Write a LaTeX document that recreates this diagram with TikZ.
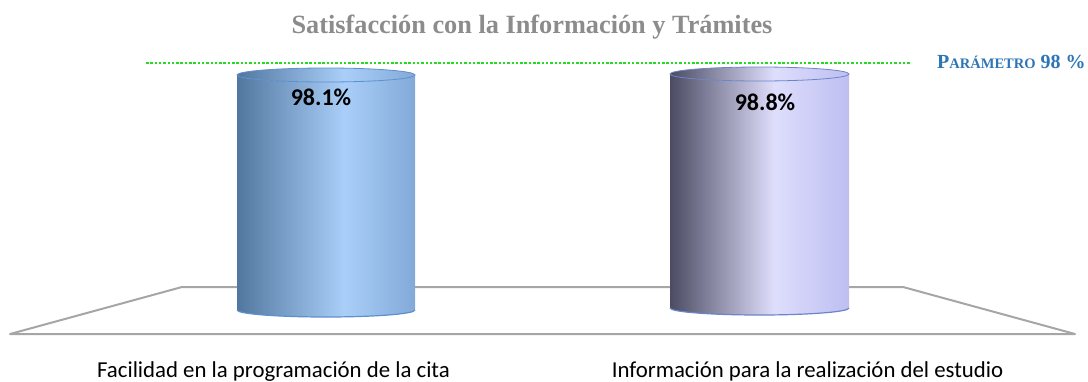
\documentclass[tikz,border=0pt]{standalone}
\usepackage{fontspec}
\setmainfont{Liberation Serif}
\newfontfamily\calibri{Carlito}
\usetikzlibrary{positioning}

\definecolor{titlegray}{HTML}{8C8C8C}
\definecolor{goalgreen}{HTML}{22DD22}
\definecolor{parblue}{HTML}{2E75B6}
\definecolor{floorgray}{HTML}{A6A6A6}
\definecolor{oneL}{HTML}{52779F}
\definecolor{oneM}{HTML}{A9CFF9}
\definecolor{oneR}{HTML}{83A9D8}
\definecolor{onerim}{HTML}{5F8FCF}
\definecolor{twoL}{HTML}{4B4B63}
\definecolor{twoM}{HTML}{DEDEFC}
\definecolor{twoR}{HTML}{BEBEF2}
\definecolor{tworim}{HTML}{6A86C8}

\pgfdeclarehorizontalshading{barone}{100bp}{color(0bp)=(oneL); color(25bp)=(oneL); color(55bp)=(oneM); color(75bp)=(oneR); color(100bp)=(oneR)}
\pgfdeclarehorizontalshading{bartwo}{100bp}{color(0bp)=(twoL); color(25bp)=(twoL); color(54bp)=(twoM); color(75bp)=(twoR); color(100bp)=(twoR)}

\tikzstyle{every node}=[inner sep=0pt]
\tikzstyle{charttitle}=[text=titlegray,font=\bfseries\fontsize{26.3}{31}\selectfont,anchor=base]
\tikzstyle{param}=[text=parblue,font=\bfseries\fontsize{20}{24}\selectfont,anchor=base west]
\tikzstyle{goal}=[draw=goalgreen,line width=2.5pt,dash pattern=on 2.5pt off 1.8pt]
\tikzstyle{floorline}=[draw=floorgray,line width=2pt,line join=round]
\tikzstyle{barlabel}=[font=\calibri\bfseries\fontsize{24}{28}\selectfont]
\tikzstyle{axislabel}=[font=\calibri\fontsize{22.8}{26}\selectfont,anchor=base]

\begin{document}
\begin{tikzpicture}[x=1pt,y=-1pt]
    \useasboundingbox (0,0) rectangle (1088,381);
    \node[charttitle] (title) at (532,33) {Satisfacción con la Información y Trámites};

    \coordinate (g0) at (146,63);
    \coordinate (g1) at (910,63);
    \draw[goal] (g0) -- (g1);
    \node[param] (par) at (937,68) {P{\fontsize{14.5}{16}\selectfont ARÁMETRO} 98 \%};

    \coordinate (f1) at (10,334);
    \coordinate (f2) at (1075,334);
    \coordinate (f3) at (903,287);
    \coordinate (f4) at (182,287);
    \draw[floorline] (f1) -- (f2) -- (f3) -- (f4) -- cycle;

    \shade[shading=barone] (237,75) -- (237,310)
      arc[start angle=180,end angle=0,x radius=89,y radius=7] -- (415,75)
      arc[start angle=0,end angle=180,x radius=89,y radius=7] -- cycle;
    \draw[onerim,line width=1.2pt] (237,310) arc[start angle=180,end angle=0,x radius=89,y radius=7];
    \shade[shading=barone,draw=onerim,line width=0.8pt] (326,75) ellipse[x radius=89,y radius=7];

    \shade[shading=bartwo] (670,74) -- (670,308)
      arc[start angle=180,end angle=0,x radius=89.5,y radius=7] -- (849,74)
      arc[start angle=0,end angle=180,x radius=89.5,y radius=7] -- cycle;
    \draw[tworim,line width=1.2pt] (670,308) arc[start angle=180,end angle=0,x radius=89.5,y radius=7];
    \shade[shading=bartwo,draw=tworim,line width=0.8pt] (759.5,74) ellipse[x radius=89.5,y radius=7];

    \node[barlabel] (v1) at (321,97.5) {98.1\%};
    \node[barlabel] (v2) at (765,102.5) {98.8\%};

    \node[axislabel] (l1) at (273.5,377) {Facilidad en la programación de la cita};
    \node[axislabel] (l2) at (807.5,377) {Información para la realización del estudio};
\end{tikzpicture}
\end{document}
